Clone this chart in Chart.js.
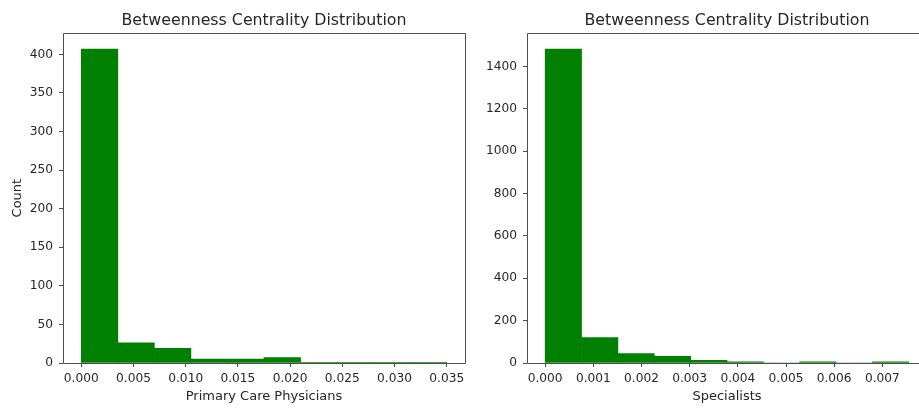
<!DOCTYPE html>
<html>
<head>
<meta charset="utf-8">
<script src="https://cdn.jsdelivr.net/npm/chart.js@4"></script>
<style>
  html, body { margin: 0; padding: 0; background: #fff; overflow: hidden; }
  #wrap { width: 919px; height: 408px; overflow: hidden; position: relative; background: #fff; }
  canvas { position: absolute; top: 0; }
  #c1 { left: 0; }
  #c2 { left: 470px; }
</style>
</head>
<body>
<div id="wrap">
<canvas id="c1" width="470" height="408"></canvas>
<canvas id="c2" width="470" height="408"></canvas>
</div>
<script>
// ---- data ----
const chartTitle = "Betweenness Centrality Distribution";

const pcpLabel = "Primary Care Physicians";
const pcpBinEdges = [0, 0.0035, 0.007, 0.0105, 0.014, 0.0175, 0.021, 0.0245, 0.028, 0.0315, 0.035];
const pcpCounts = [407, 26, 19, 5, 5, 7, 1, 1, 1, 1];
const pcpXTicks = [0, 0.005, 0.010, 0.015, 0.020, 0.025, 0.030, 0.035];
const pcpYTicks = [0, 50, 100, 150, 200, 250, 300, 350, 400];

const specLabel = "Specialists";
const specBinEdges = [0, 0.000755, 0.00151, 0.002265, 0.00302, 0.003775, 0.00453, 0.005285, 0.00604, 0.006795, 0.00755];
const specCounts = [1483, 120, 45, 31, 13, 6, 0, 6, 0, 6];
const specXTicks = [0, 0.001, 0.002, 0.003, 0.004, 0.005, 0.006, 0.007];
const specYTicks = [0, 200, 400, 600, 800, 1000, 1200, 1400];

const yLabel = "Count";

// ---- styling ----
const FONT = "'DejaVu Sans', sans-serif";
const TEXT = '#262626';
const LINE = '#4d4d4d';
const BAR = '#008000';

function makeBoxPlugin(drawRight) {
  return {
    id: 'box',
    afterLayout(chart) {
      // centre the title over the plot area, as matplotlib does
      const a = chart.chartArea, t = chart.titleBlock;
      if (t) { t.left = a.left; t.right = a.right; t.width = a.right - a.left; }
    },
    afterDraw(chart) {
      const {ctx, chartArea: a} = chart;
      const l = Math.round(a.left) + 0.5, r = Math.round(a.right) + 0.5;
      const t = Math.round(a.top) + 0.5, b = Math.round(a.bottom) + 0.5;
      ctx.save();
      ctx.strokeStyle = LINE;
      ctx.lineWidth = 1;
      ctx.beginPath();
      ctx.moveTo(l, t); ctx.lineTo(r, t);
      ctx.moveTo(l, b); ctx.lineTo(r, b);
      ctx.moveTo(l, t); ctx.lineTo(l, b);
      if (drawRight) { ctx.moveTo(r, t); ctx.lineTo(r, b); }
      ctx.stroke();
      ctx.restore();
    }
  };
}

function histData(edges, counts) {
  return counts.map((c, i) => ({ x: (edges[i] + edges[i + 1]) / 2, y: c }));
}

function makeChart(id, edges, counts, xTicks, yTicks, xLabel, opts) {
  return new Chart(document.getElementById(id), {
    type: 'bar',
    data: {
      datasets: [{
        data: histData(edges, counts),
        backgroundColor: BAR,
        borderWidth: 0,
        barPercentage: 1.0,
        categoryPercentage: 1.0
      }]
    },
    plugins: [makeBoxPlugin(opts.drawRight)],
    options: {
      responsive: false,
      animation: false,
      devicePixelRatio: 1,
      layout: { padding: { left: 0, right: opts.padRight, top: 0, bottom: 0 } },
      plugins: {
        legend: { display: false },
        tooltip: { enabled: false },
        title: {
          display: true,
          text: chartTitle,
          color: TEXT,
          font: { family: FONT, size: 15.8, weight: 'normal', lineHeight: 1.2 },
          padding: { top: 11.3, bottom: 3.0 }
        }
      },
      scales: {
        x: {
          type: 'linear',
          offset: false,
          min: opts.xMin,
          max: opts.xMax,
          grid: { display: true, drawOnChartArea: false, drawTicks: true, tickLength: 4, color: LINE, offset: false },
          border: { display: false },
          afterBuildTicks: (s) => { s.ticks = xTicks.map(v => ({ value: v })); },
          afterFit: (s) => { s.height = 45; },
          ticks: {
            autoSkip: false, maxRotation: 0, color: TEXT, padding: 5,
            font: { family: FONT, size: 12.2 },
            callback: (v) => Number(v).toFixed(3)
          },
          title: {
            display: true, text: xLabel, color: TEXT,
            font: { family: FONT, size: 13 },
            padding: { top: 0, bottom: 3.2 }
          }
        },
        y: {
          type: 'linear',
          min: 0,
          max: opts.yMax,
          grid: { display: true, drawOnChartArea: false, drawTicks: true, tickLength: 4, color: LINE },
          border: { display: false },
          afterBuildTicks: (s) => { s.ticks = yTicks.map(v => ({ value: v })); },
          afterFit: (s) => { s.width = opts.yWidth; },
          ticks: {
            color: TEXT, padding: 6,
            font: { family: FONT, size: 12.2 },
            callback: (v) => String(v)
          },
          title: {
            display: opts.showY, text: yLabel, color: TEXT,
            font: { family: FONT, size: 13 },
            padding: { top: 9.5, bottom: 0 }
          }
        }
      }
    }
  });
}

makeChart('c1', pcpBinEdges, pcpCounts, pcpXTicks, pcpYTicks, pcpLabel,
  { padRight: 5, xMin: -0.00175, xMax: 0.03675, yMax: 427.35, yWidth: 63, showY: true, drawRight: true });
makeChart('c2', specBinEdges, specCounts, specXTicks, specYTicks, specLabel,
  { padRight: 13, xMin: -0.0003775, xMax: 0.0079275, yMax: 1557.15, yWidth: 57, showY: false, drawRight: false });
</script>
</body>
</html>
